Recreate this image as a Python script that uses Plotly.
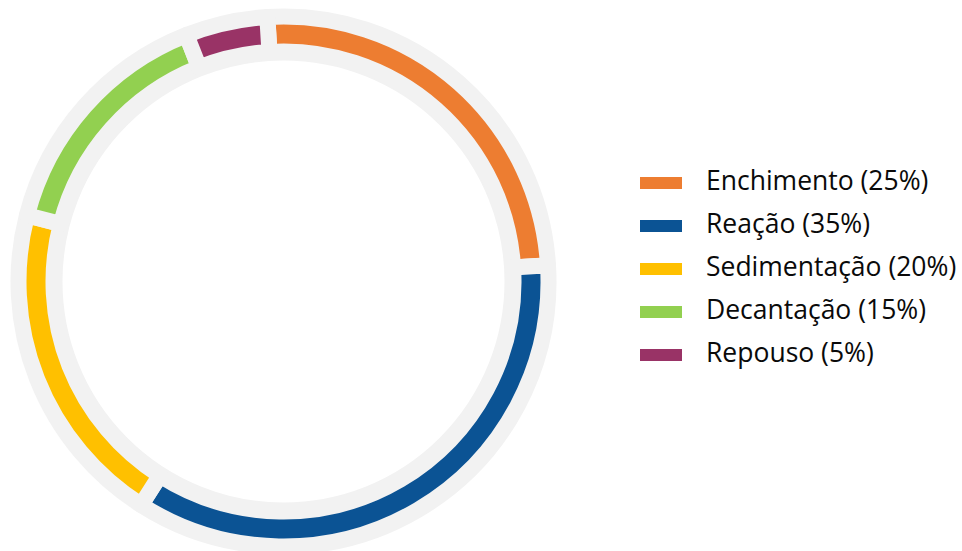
import plotly.graph_objects as go

# ---- data ----
labels = ["Enchimento", "Reação", "Sedimentação", "Decantação", "Repouso"]
values = [25, 35, 20, 15, 5]
colors = ["#ED7D31", "#0B5394", "#FFC000", "#92D050", "#993366"]
legend_text = [f"{l} ({v}%)" for l, v in zip(labels, values)]

# ---- geometry (pixels) ----
W, H = 962, 551
cx, cy = 283.5, 281.5          # ring centre, from top-left
R_out, R_in = 257, 238         # visible coloured band
gap = 16                       # gap between segments
ring_out, ring_in = 271, 221   # light grey backing ring
ring_col = "#F2F2F2"

R = R_out + gap / 2
hole = (R_in - gap / 2) / R

fig = go.Figure()
fig.add_trace(go.Pie(
    labels=labels,
    values=values,
    sort=False,
    direction="clockwise",
    rotation=-3.5,
    hole=hole,
    textinfo="none",
    marker=dict(colors=colors, line=dict(color=ring_col, width=gap)),
    domain=dict(x=[(cx - R) / W, (cx + R) / W],
                y=[(H - cy - R) / H, (H - cy + R) / H]),
    showlegend=False,
))

shapes = []
rm = (ring_out + ring_in) / 2
shapes.append(dict(
    type="circle", xref="paper", yref="paper", layer="below",
    x0=(cx - rm) / W, x1=(cx + rm) / W,
    y0=(H - cy - rm) / H, y1=(H - cy + rm) / H,
    line=dict(color=ring_col, width=ring_out - ring_in),
    fillcolor="rgba(0,0,0,0)",
))

annotations = []
row0, step = 183, 43
for i, (txt, col) in enumerate(zip(legend_text, colors)):
    yc = row0 + step * i
    shapes.append(dict(
        type="rect", xref="paper", yref="paper",
        x0=640 / W, x1=682 / W,
        y0=(H - (yc + 6)) / H, y1=(H - (yc - 6)) / H,
        fillcolor=col, line=dict(width=0),
    ))
    annotations.append(dict(
        text=txt, xref="paper", yref="paper",
        x=704 / W, y=(H - (yc - 3.5)) / H,
        xanchor="left", yanchor="middle", showarrow=False,
        font=dict(family="Open Sans", size=26.5, color="#0a0a0a"),
    ))

fig.update_layout(
    width=W, height=H,
    margin=dict(l=0, r=0, t=0, b=0),
    paper_bgcolor="white", plot_bgcolor="white",
    showlegend=False,
    shapes=shapes,
    annotations=annotations,
)

fig.write_html("out.html")
